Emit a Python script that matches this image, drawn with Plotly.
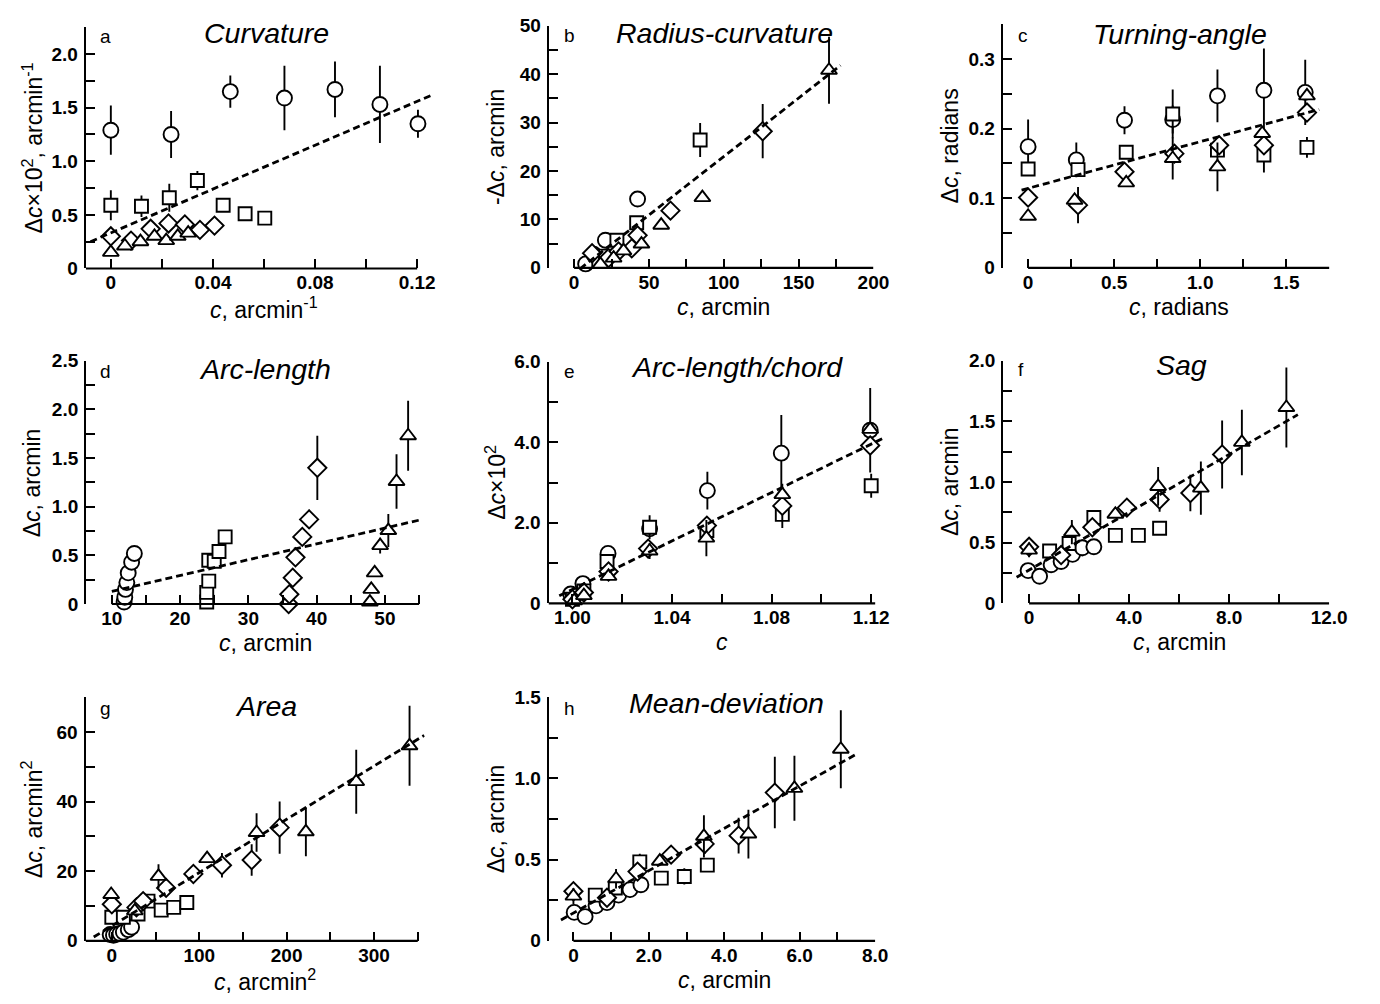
import plotly.graph_objects as go

W, H = 1380, 1004
FONT = "Liberation Sans, Arial, Helvetica, sans-serif"

# ---------------- data: (c, delta_c, error) ----------------
# a  Curvature
a_circle = [(0, 1.29, 0.23), (0.0236, 1.25, 0.22), (0.0468, 1.65, 0.15), (0.068, 1.59, 0.30),
            (0.0878, 1.67, 0.26), (0.1054, 1.53, 0.36), (0.1203, 1.35, 0.13)]
a_square = [(0, 0.59, 0.14), (0.012, 0.58, 0.10), (0.0229, 0.66, 0.13), (0.0339, 0.82, 0.09),
            (0.044, 0.59, 0), (0.0526, 0.51, 0.05), (0.0603, 0.47, 0)]
a_diamond = [(0, 0.30, 0), (0.0079, 0.26, 0), (0.0156, 0.37, 0), (0.0226, 0.42, 0),
             (0.029, 0.41, 0), (0.0349, 0.36, 0), (0.0406, 0.40, 0)]
a_triangle = [(0, 0.15, 0), (0.0055, 0.21, 0), (0.0116, 0.25, 0), (0.0171, 0.30, 0),
              (0.0217, 0.26, 0), (0.0262, 0.30, 0), (0.0303, 0.33, 0)]
a_fit_x = [-0.008, 0.126]
a_fit_y = [0.25, 1.62]

# b  Radius-curvature
b_circle = [(7.7, 0.8, 0), (13, 2.8, 0), (20.9, 5.7, 0), (42.4, 14.2, 1.0)]
b_square = [(16.5, 1.35, 0), (21, 2.4, 0), (28.6, 5.7, 0), (41.8, 9.3, 1.0), (84.2, 26.4, 3.5)]
b_diamond = [(12, 3.0, 0), (23, 2.0, 0), (29.7, 3.4, 0), (38.5, 4.0, 0), (42.4, 6.7, 0),
             (64.4, 11.8, 0), (126, 28.2, 5.6)]
b_triangle = [(17.6, 0.7, 0), (26.4, 2.0, 0), (33, 3.5, 0), (45, 4.9, 0), (58.2, 8.8, 0),
              (85.7, 14.5, 0), (170.3, 40.8, 6.9)]
b_fit_x = [4, 178]
b_fit_y = [-0.2, 41.8]

# c  Turning-angle
c_circle = [(0, 0.174, 0.039), (0.28, 0.155, 0.025), (0.56, 0.212, 0.02), (0.84, 0.213, 0.02),
            (1.10, 0.247, 0.038), (1.37, 0.255, 0.06), (1.61, 0.252, 0.047)]
c_square = [(0, 0.142, 0), (0.29, 0.141, 0), (0.57, 0.166, 0), (0.84, 0.221, 0.035),
            (1.10, 0.169, 0), (1.37, 0.162, 0.025), (1.62, 0.173, 0.015)]
c_diamond = [(0, 0.101, 0), (0.29, 0.090, 0.026), (0.56, 0.138, 0), (0.85, 0.164, 0),
             (1.11, 0.176, 0), (1.37, 0.176, 0), (1.62, 0.223, 0)]
c_triangle = [(0, 0.074, 0), (0.27, 0.097, 0), (0.57, 0.122, 0), (0.84, 0.157, 0.03),
              (1.10, 0.145, 0.035), (1.36, 0.193, 0), (1.62, 0.247, 0)]
c_fit_x = [-0.038, 1.691]
c_fit_y = [0.1116, 0.2274]

# d  Arc-length
d_circle = [(11.8, 0.02, 0), (11.9, 0.07, 0), (12.0, 0.15, 0), (12.2, 0.22, 0),
            (12.4, 0.32, 0), (12.9, 0.43, 0), (13.3, 0.52, 0)]
d_square = [(23.9, 0.02, 0), (23.9, 0.12, 0), (24.2, 0.235, 0), (24.2, 0.45, 0),
            (25.0, 0.44, 0), (25.7, 0.54, 0), (26.6, 0.69, 0)]
d_diamond = [(35.9, 0.0, 0), (36.0, 0.10, 0), (36.5, 0.27, 0), (36.9, 0.48, 0),
             (37.9, 0.69, 0), (38.9, 0.87, 0.10), (40.1, 1.40, 0.33)]
d_triangle = [(47.8, 0.02, 0), (48.0, 0.15, 0), (48.5, 0.32, 0), (49.3, 0.60, 0.08),
              (50.5, 0.755, 0.17), (51.7, 1.26, 0.28), (53.4, 1.73, 0.36)]
d_fit_x = [10, 55.5]
d_fit_y = [0.13, 0.87]

# e  Arc-length/chord
e_circle = [(0.9993, 0.23, 0), (1.0042, 0.49, 0), (1.0143, 1.24, 0), (1.031, 1.85, 0),
            (1.0542, 2.80, 0.47), (1.0839, 3.73, 0.95), (1.1196, 4.30, 1.05)]
e_square = [(1.0, 0.10, 0), (1.0046, 0.31, 0), (1.0139, 1.04, 0), (1.031, 1.89, 0.30),
            (1.054, 1.81, 0), (1.0843, 2.21, 0), (1.12, 2.92, 0.30)]
e_diamond = [(1.0, 0.10, 0), (1.0046, 0.27, 0), (1.0145, 0.79, 0), (1.0304, 1.36, 0),
             (1.054, 1.93, 0), (1.0843, 2.42, 0.55), (1.1196, 3.92, 0)]
e_triangle = [(1.0007, 0.065, 0), (1.0046, 0.19, 0), (1.0145, 0.67, 0), (1.031, 1.30, 0.20),
              (1.0538, 1.62, 0.45), (1.0843, 2.70, 0), (1.1196, 4.32, 0)]
e_fit_x = [0.9947, 1.1255]
e_fit_y = [0.187, 4.12]

# f  Sag
f_circle = [(-0.04, 0.27, 0), (0.42, 0.223, 0), (0.88, 0.318, 0), (1.28, 0.345, 0),
            (1.74, 0.404, 0.06), (2.13, 0.458, 0.07), (2.59, 0.466, 0)]
f_square = [(0.82, 0.431, 0.05), (1.6, 0.493, 0.04), (2.59, 0.708, 0.05), (3.45, 0.56, 0.04),
            (4.37, 0.56, 0.05), (5.22, 0.619, 0.03)]
f_diamond = [(0, 0.466, 0.05), (1.28, 0.398, 0), (2.53, 0.627, 0), (3.91, 0.789, 0.05),
             (5.22, 0.856, 0.10), (6.45, 0.91, 0.15), (7.72, 1.227, 0.28)]
f_triangle = [(0, 0.439, 0.06), (1.71, 0.587, 0.10), (3.45, 0.735, 0), (5.16, 0.964, 0.16),
              (6.87, 0.95, 0.22), (8.51, 1.327, 0.27), (10.29, 1.615, 0.33)]
f_fit_x = [-0.5, 10.75]
f_fit_y = [0.215, 1.556]

# g  Area
g_circle = [(-1.9, 1.8, 0), (1.9, 1.6, 0), (5.6, 1.9, 0), (9.4, 2.1, 0),
            (13.2, 2.5, 0), (18.8, 3.2, 0), (22.6, 3.9, 0)]
g_square = [(0, 6.75, 0), (13.2, 6.75, 0), (30, 7.7, 0), (41.4, 11.4, 0),
            (56.5, 8.8, 0), (70.8, 9.6, 0), (85.8, 11.0, 0)]
g_diamond = [(0, 10.5, 0), (28.2, 9.6, 0), (35.8, 11.4, 0), (62.1, 15.2, 2.5),
             (93.3, 19.2, 0), (126, 21.7, 3.5), (160, 23.2, 4.5), (192, 32.5, 7.5)]
g_triangle = [(-0.75, 13.3, 0), (26.3, 8.6, 0), (53.4, 18.5, 3.5), (109, 23.6, 0),
              (165.6, 31.1, 5.5), (222, 31.3, 7.0), (279.6, 45.7, 9.2), (340.6, 56.0, 11.5)]
g_fit_x = [-20.7, 357.4]
g_fit_y = [1.1, 59.0]

# h  Mean-deviation
h_circle = [(0.02, 0.175, 0), (0.31, 0.149, 0), (0.60, 0.215, 0), (0.89, 0.235, 0),
            (1.2, 0.281, 0), (1.5, 0.315, 0.05), (1.79, 0.345, 0)]
h_square = [(0.58, 0.281, 0), (1.11, 0.325, 0), (1.76, 0.486, 0.05), (2.33, 0.386, 0),
            (2.94, 0.396, 0.05), (3.55, 0.466, 0)]
h_diamond = [(0, 0.305, 0), (0.89, 0.265, 0), (1.7, 0.426, 0), (2.59, 0.530, 0),
             (3.48, 0.596, 0.06), (4.38, 0.647, 0.11), (5.34, 0.912, 0.22)]
h_triangle = [(0, 0.275, 0.05), (1.13, 0.382, 0.06), (2.29, 0.49, 0), (3.46, 0.643, 0.13),
              (4.64, 0.657, 0.15), (5.86, 0.938, 0.20), (7.09, 1.179, 0.24)]
h_fit_x = [-0.33, 7.46]
h_fit_y = [0.128, 1.143]

# ---------------- tick labels (labelled ticks) and unlabelled minor ticks ----------------
a_xticks = [0, 0.04, 0.08, 0.12]
a_xlabels = ["0", "0.04", "0.08", "0.12"]
a_xminor = [0.02, 0.06, 0.10]
a_yticks = [0, 0.5, 1.0, 1.5, 2.0]
a_ylabels = ["0", "0.5", "1.0", "1.5", "2.0"]
a_yminor = [0.25, 0.75, 1.25, 1.75, 2.25]

b_xticks = [0, 50, 100, 150, 200]
b_xlabels = ["0", "50", "100", "150", "200"]
b_xminor = [25, 75, 125, 175]
b_yticks = [0, 10, 20, 30, 40, 50]
b_ylabels = ["0", "10", "20", "30", "40", "50"]
b_yminor = [5, 15, 25, 35, 45]

c_xticks = [0, 0.5, 1.0, 1.5]
c_xlabels = ["0", "0.5", "1.0", "1.5"]
c_xminor = [0.25, 0.75, 1.25, 1.75]
c_yticks = [0, 0.1, 0.2, 0.3]
c_ylabels = ["0", "0.1", "0.2", "0.3"]
c_yminor = [0.05, 0.15, 0.25, 0.35]

d_xticks = [10, 20, 30, 40, 50]
d_xlabels = ["10", "20", "30", "40", "50"]
d_xminor = [15, 25, 35, 45, 55]
d_yticks = [0, 0.5, 1.0, 1.5, 2.0, 2.5]
d_ylabels = ["0", "0.5", "1.0", "1.5", "2.0", "2.5"]
d_yminor = [0.25, 0.75, 1.25, 1.75, 2.25]

e_xticks = [1.00, 1.04, 1.08, 1.12]
e_xlabels = ["1.00", "1.04", "1.08", "1.12"]
e_xminor = [1.02, 1.06, 1.10]
e_yticks = [0, 2, 4, 6]
e_ylabels = ["0", "2.0", "4.0", "6.0"]
e_yminor = [1, 3, 5]

f_xticks = [0, 4, 8, 12]
f_xlabels = ["0", "4.0", "8.0", "12.0"]
f_xminor = [2, 6, 10]
f_yticks = [0, 0.5, 1.0, 1.5, 2.0]
f_ylabels = ["0", "0.5", "1.0", "1.5", "2.0"]
f_yminor = [0.25, 0.75, 1.25, 1.75]

g_xticks = [0, 100, 200, 300]
g_xlabels = ["0", "100", "200", "300"]
g_xminor = [50, 150, 250, 350]
g_yticks = [0, 20, 40, 60]
g_ylabels = ["0", "20", "40", "60"]
g_yminor = [10, 30, 50, 70]

h_xticks = [0, 2, 4, 6, 8]
h_xlabels = ["0", "2.0", "4.0", "6.0", "8.0"]
h_xminor = [1, 3, 5, 7]
h_yticks = [0, 0.5, 1.0, 1.5]
h_ylabels = ["0", "0.5", "1.0", "1.5"]
h_yminor = [0.25, 0.75, 1.25]

titles = ["Curvature", "Radius-curvature", "Turning-angle", "Arc-length",
          "Arc-length/chord", "Sag", "Area", "Mean-deviation"]
letters = ["a", "b", "c", "d", "e", "f", "g", "h"]
x_titles = ["<i>c</i>, arcmin<sup>-1</sup>", "<i>c</i>, arcmin", "<i>c</i>, radians",
            "<i>c</i>, arcmin", "<i>c</i>", "<i>c</i>, arcmin",
            "<i>c</i>, arcmin<sup>2</sup>", "<i>c</i>, arcmin"]
y_titles = ["Δ<i>c</i>×10<sup>2</sup>, arcmin<sup>-1</sup>", "-Δ<i>c</i>, arcmin",
            "Δ<i>c</i>, radians", "Δ<i>c</i>, arcmin", "Δ<i>c</i>×10<sup>2</sup>",
            "Δ<i>c</i>, arcmin", "Δ<i>c</i>, arcmin<sup>2</sup>", "Δ<i>c</i>, arcmin"]

series = {
    "a": (a_circle, a_square, a_diamond, a_triangle, a_fit_x, a_fit_y),
    "b": (b_circle, b_square, b_diamond, b_triangle, b_fit_x, b_fit_y),
    "c": (c_circle, c_square, c_diamond, c_triangle, c_fit_x, c_fit_y),
    "d": (d_circle, d_square, d_diamond, d_triangle, d_fit_x, d_fit_y),
    "e": (e_circle, e_square, e_diamond, e_triangle, e_fit_x, e_fit_y),
    "f": (f_circle, f_square, f_diamond, f_triangle, f_fit_x, f_fit_y),
    "g": (g_circle, g_square, g_diamond, g_triangle, g_fit_x, g_fit_y),
    "h": (h_circle, h_square, h_diamond, h_triangle, h_fit_x, h_fit_y),
}
ticks = {
    "a": (a_xticks, a_xlabels, a_xminor, a_yticks, a_ylabels, a_yminor),
    "b": (b_xticks, b_xlabels, b_xminor, b_yticks, b_ylabels, b_yminor),
    "c": (c_xticks, c_xlabels, c_xminor, c_yticks, c_ylabels, c_yminor),
    "d": (d_xticks, d_xlabels, d_xminor, d_yticks, d_ylabels, d_yminor),
    "e": (e_xticks, e_xlabels, e_xminor, e_yticks, e_ylabels, e_yminor),
    "f": (f_xticks, f_xlabels, f_xminor, f_yticks, f_ylabels, f_yminor),
    "g": (g_xticks, g_xlabels, g_xminor, g_yticks, g_ylabels, g_yminor),
    "h": (h_xticks, h_xlabels, h_xminor, h_yticks, h_ylabels, h_yminor),
}

# ---------------- layout geometry (pixels of the page) ----------------
# xcal: (value1, px1, value2, px2); xr: axis range; xline: drawn extent of x axis line
geom = {
    "a": dict(xcal=(0, 112.3, 0.12, 422.7), xr=(-0.0098, 0.127), xline=(-0.0098, 0.12),
              ycal=(0, 264, 2.0, 45), yr=(0, 2.2501), title=(270, 24), letter=(107, 27)),
    "b": dict(xcal=(0, 581.7, 200, 885), xr=(-17, 200.01), xline=(0, 200),
              ycal=(0, 263.3, 50, 16), yr=(0, 50.01), title=(734, 23), letter=(577, 26)),
    "c": dict(xcal=(0, 1041.7, 1.5, 1303.3), xr=(-0.147, 1.751), xline=(0, 1.75),
              ycal=(0, 263.3, 0.3, 50), yr=(0, 0.3501), title=(1196, 25), letter=(1037, 26)),
    "d": dict(xcal=(10, 113.3, 50, 390), xr=(6.24, 55.5), xline=(10, 55),
              ycal=(0, 606.7, 2.5, 358.3), yr=(0, 2.5001), title=(268, 367), letter=(107, 369)),
    "e": dict(xcal=(1.0, 580, 1.12, 882.7), xr=(0.9904, 1.1258), xline=(0.9904, 1.1216),
              ycal=(0, 606, 6, 359.3), yr=(0, 6.001), title=(747, 365), letter=(577, 369)),
    "f": dict(xcal=(0, 1042.7, 12, 1346.7), xr=(-1.03, 12.01), xline=(0, 12),
              ycal=(0, 606, 2.0, 358.3), yr=(0, 2.0001), title=(1197, 363), letter=(1034, 367)),
    "g": dict(xcal=(0, 113.3, 300, 379), xr=(-30, 358), xline=(-30, 350),
              ycal=(0, 950.7, 60, 737.3), yr=(0, 70.01), title=(270, 711), letter=(107, 713)),
    "h": dict(xcal=(0, 581, 8, 886.7), xr=(-0.654, 8.01), xline=(0, 8),
              ycal=(0, 950.7, 1.5, 701.7), yr=(0, 1.5001), title=(736, 708), letter=(577, 713)),
}
xtitle_center = {"a": 0.06, "b": 100, "c": 0.875, "d": 32.5, "e": 1.06, "f": 6, "g": 175, "h": 4}

MARKERS = [("circle", 15), ("square", 13), ("diamond", 14), ("triangle-up", 14)]

fig = go.Figure()
layout = dict(width=W, height=H, margin=dict(l=0, r=0, t=0, b=0),
              paper_bgcolor="white", plot_bgcolor="white", showlegend=False,
              font=dict(family=FONT, color="black", size=19))
annotations = []
shapes = []


def px_span(cal, rng):
    v1, p1, v2, p2 = cal
    s = (p2 - p1) / (v2 - v1)
    return p1 + (rng[0] - v1) * s, p1 + (rng[1] - v1) * s


for i, key in enumerate("abcdefgh", start=1):
    xa = "x" if i == 1 else f"x{i}"
    ya = "y" if i == 1 else f"y{i}"
    g = geom[key]
    x0p, x1p = px_span(g["xcal"], g["xr"])
    yb, yt = px_span(g["ycal"], g["yr"])
    xdom = [x0p / W, x1p / W]
    ydom = [1 - yb / H, 1 - yt / H]
    xt, xl, xm, yt_, yl, ym = ticks[key]
    tickstyle = dict(ticks="inside", ticklen=9, tickwidth=2, tickcolor="black",
                     showgrid=False, zeroline=False, fixedrange=True,
                     tickfont=dict(family=FONT, size=19, color="black", weight="bold"))

    def minor(vals):
        return dict(tickmode="array", tickvals=vals, ticks="inside", ticklen=9,
                    tickwidth=2, tickcolor="black", showgrid=False)

    layout["xaxis" if i == 1 else f"xaxis{i}"] = dict(
        domain=xdom, range=list(g["xr"]), anchor=ya, showline=False,
        tickmode="array", tickvals=xt, ticktext=xl, ticklabelstandoff=1,
        minor=minor(xm), **tickstyle)
    layout["yaxis" if i == 1 else f"yaxis{i}"] = dict(
        domain=ydom, range=list(g["yr"]), anchor=xa, showline=True, linewidth=2.2,
        linecolor="black", tickmode="array", tickvals=yt_, ticktext=yl,
        ticklabelstandoff=2, minor=minor(ym), **tickstyle)

    # data series
    for pts, (sym, size) in zip(series[key][:4], MARKERS):
        fig.add_trace(go.Scatter(
            x=[p[0] for p in pts], y=[p[1] for p in pts], mode="markers",
            xaxis=xa, yaxis=ya, cliponaxis=False,
            marker=dict(symbol=sym, size=size, color="white",
                        line=dict(color="black", width=1.9)),
            error_y=dict(type="data", array=[p[2] for p in pts], visible=True,
                         width=0, thickness=1.9, color="black")))
    fx, fy = series[key][4], series[key][5]
    fig.add_trace(go.Scatter(x=fx, y=fy, mode="lines", xaxis=xa, yaxis=ya,
                             line=dict(color="black", width=2.8, dash="7px,4px")))

    # x axis line (may be offset from the y axis)
    shapes.append(dict(type="line", xref=xa, yref=f"{ya} domain",
                       x0=g["xline"][0], x1=g["xline"][1], y0=0, y1=0,
                       line=dict(color="black", width=2.2)))

    # texts
    tx, ty = g["title"]
    annotations.append(dict(text=f"<i>{titles[i-1]}</i>", xref="paper", yref="paper",
                            x=tx / W, y=1 - ty / H, xanchor="center", yanchor="middle",
                            showarrow=False, font=dict(family=FONT, size=28.5)))
    lx, ly = g["letter"]
    annotations.append(dict(text=letters[i-1], xref="paper", yref="paper",
                            x=lx / W, y=1 - ly / H, xanchor="center", yanchor="middle",
                            showarrow=False, font=dict(family=FONT, size=19)))
    annotations.append(dict(text=x_titles[i-1], xref=xa, yref="paper",
                            x=xtitle_center[key], y=1 - (yb + 40) / H,
                            xanchor="center", yanchor="middle", showarrow=False,
                            font=dict(family=FONT, size=23)))
    annotations.append(dict(text=y_titles[i-1], xref="paper", yref="paper",
                            x=(x0p - 54) / W, y=1 - (yb + yt) / 2 / H, textangle=-90,
                            xanchor="center", yanchor="middle", showarrow=False,
                            font=dict(family=FONT, size=23)))

layout["annotations"] = annotations
layout["shapes"] = shapes
fig.update_layout(**layout)
fig.write_html("out.html", config={"displayModeBar": False},
               post_script="document.body.style.margin='0';")
